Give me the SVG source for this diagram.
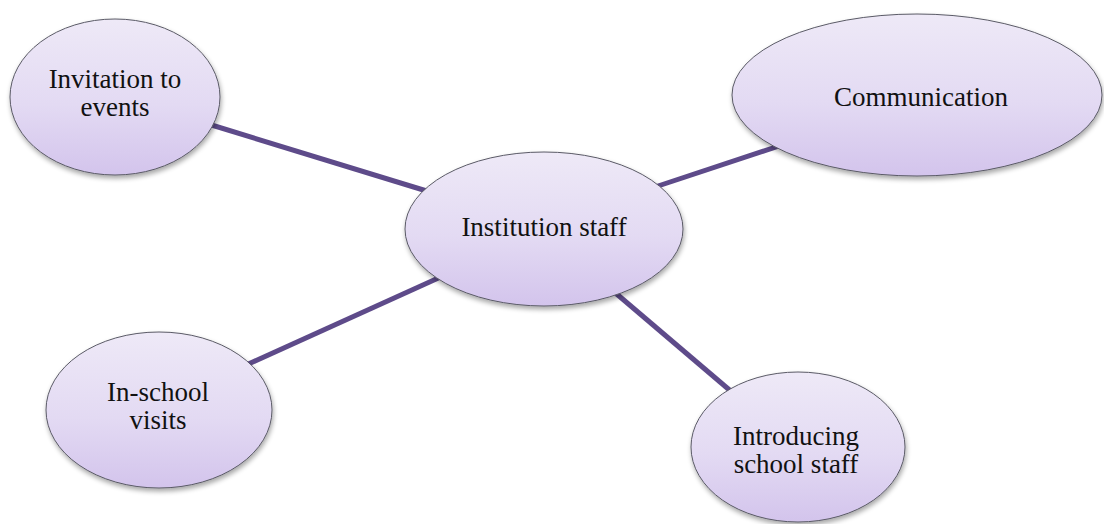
<svg xmlns="http://www.w3.org/2000/svg" width="1104" height="524" viewBox="0 0 1104 524">
<defs>
<linearGradient id="fill" x1="0" y1="0" x2="0" y2="1">
<stop offset="0" stop-color="#eee9f7"/>
<stop offset="0.55" stop-color="#e3daf3"/>
<stop offset="1" stop-color="#d3c4ec"/>
</linearGradient>
<filter id="sh" x="-10%" y="-10%" width="125%" height="130%">
<feGaussianBlur in="SourceAlpha" stdDeviation="2.5"/>
<feOffset dx="1" dy="3" result="b"/>
<feComponentTransfer><feFuncA type="linear" slope="0.35"/></feComponentTransfer>
<feMerge><feMergeNode/><feMergeNode in="SourceGraphic"/></feMerge>
</filter>
</defs>
<style>
.node ellipse{fill:url(#fill);stroke:#5a5a66;stroke-width:1;filter:url(#sh)}
.node text{font-family:"Liberation Serif","Times New Roman",serif;font-size:27px;fill:#111;text-anchor:middle}
.edges line{stroke:#5e4b8a;stroke-width:5;stroke-linecap:butt}
</style>
<rect width="1104" height="524" fill="#fff"/>
<g class="edges" id="connectors">
<line x1="205" y1="123" x2="430" y2="192"/>
<line x1="655" y1="187" x2="785" y2="144"/>
<line x1="244" y1="366" x2="445" y2="275"/>
<line x1="612" y1="290" x2="733" y2="393"/>
</g>
<g class="node" id="n-invitation">
<ellipse cx="115" cy="97" rx="105" ry="78"/>
<text x="115" y="88">Invitation to</text>
<text x="115" y="116">events</text>
</g>
<g class="node" id="n-communication">
<ellipse cx="917" cy="95" rx="185" ry="81"/>
<text x="921" y="106">Communication</text>
</g>
<g class="node" id="n-institution">
<ellipse cx="544" cy="229" rx="139" ry="77"/>
<text x="544" y="236">Institution staff</text>
</g>
<g class="node" id="n-inschool">
<ellipse cx="159" cy="410" rx="113" ry="78"/>
<text x="158" y="401">In-school</text>
<text x="158" y="429">visits</text>
</g>
<g class="node" id="n-introducing">
<ellipse cx="798" cy="447" rx="107" ry="75"/>
<text x="796" y="445">Introducing</text>
<text x="796" y="473">school staff</text>
</g>
</svg>
